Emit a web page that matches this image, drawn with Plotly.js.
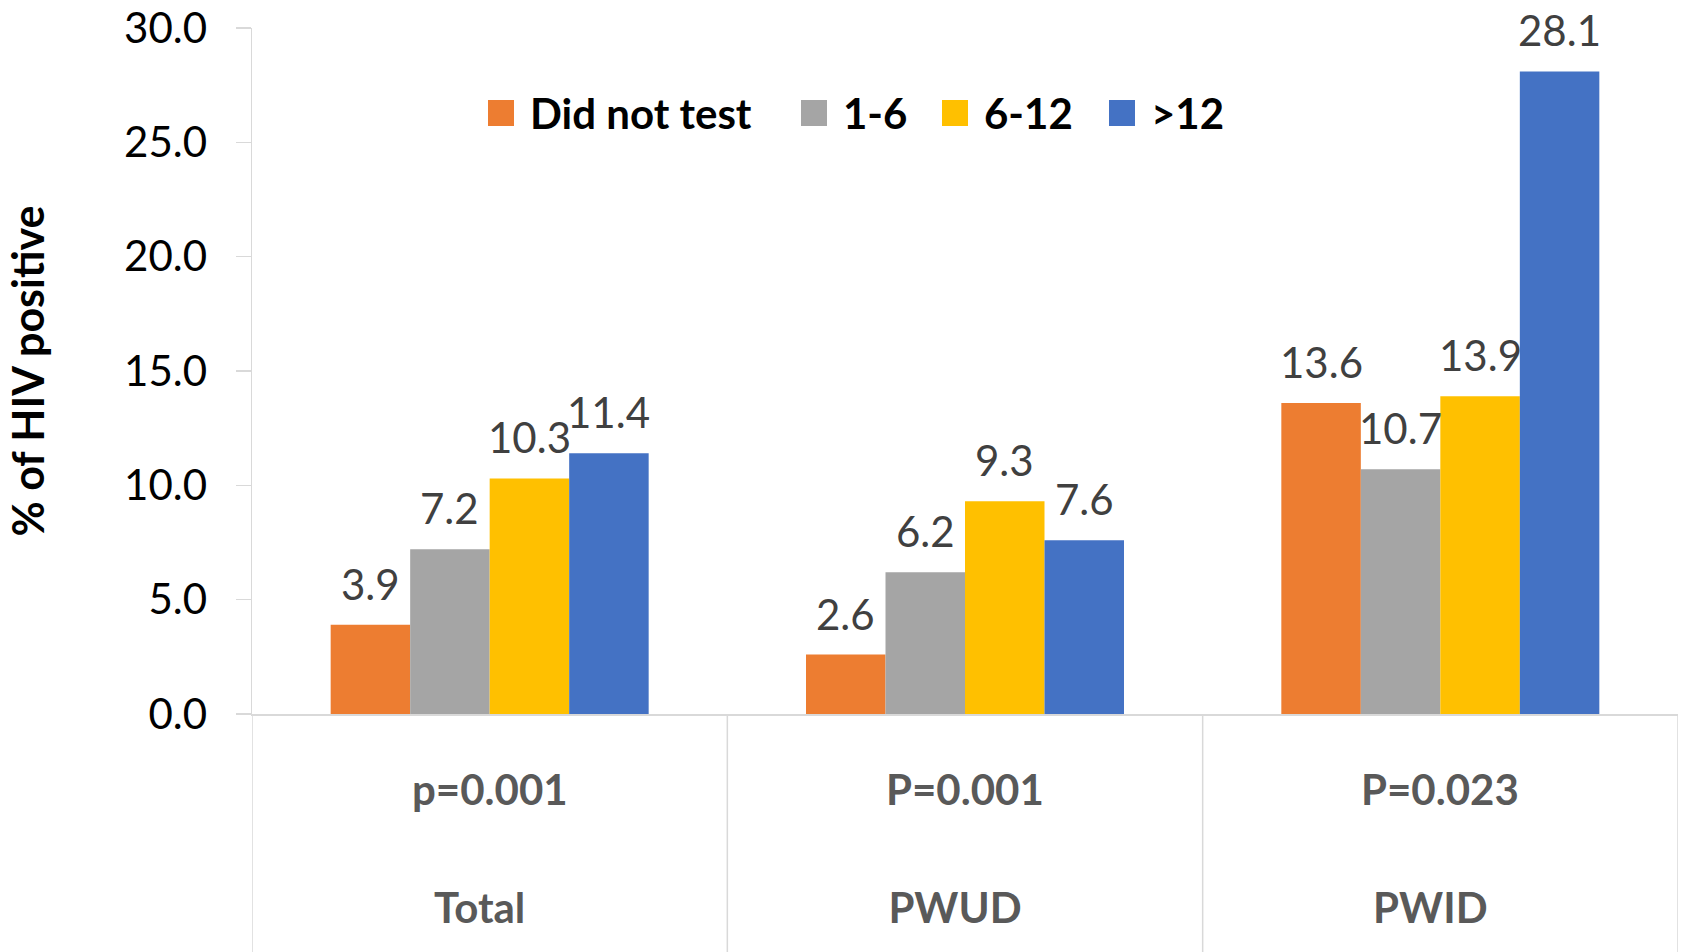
<!DOCTYPE html>
<html><head><meta charset="utf-8">
<script src="https://cdn.plot.ly/plotly-3.0.1.min.js"></script>
<style>html,body{margin:0;padding:0;background:#fff}#chart{width:1685px;height:952px}</style>
</head><body><div id="chart"></div>
<script>
// ---- data ----
const groups = ["Total", "PWUD", "PWID"];
const pValues = ["p=0.001", "P=0.001", "P=0.023"];
const seriesNames = ["Did not test", "1-6", "6-12", ">12"];
const didNotTest = [3.9, 2.6, 13.6];
const months1to6 = [7.2, 6.2, 10.7];
const months6to12 = [10.3, 9.3, 13.9];
const over12 = [11.4, 7.6, 28.1];
const yTicks = [0, 5, 10, 15, 20, 25, 30];
const yTitle = "% of HIV positive";

// ---- styles / layout constants ----
const colors = ["#ED7D31", "#A5A5A5", "#FFC000", "#4472C4"];
const series = [didNotTest, months1to6, months6to12, over12];
const BARGAP = 0.331;
const FONT = "Lato, 'Open Sans', sans-serif";
const AXIS_GRAY = "#d9d9d9";
const W = 1685, H = 952;
const M = {l: 252, r: 7, t: 28, b: 238};
const PW = W - M.l - M.r, PH = H - M.t - M.b;
const px2x = px => (px - M.l) / PW;
const px2y = py => (H - M.b - py) / PH;
// legend layout (pixel positions of each legend swatch's left edge)
const legendSwatchLeft = [488, 801, 942, 1109];
const LEG_SW = 26, LEG_TOP = 100, LEG_TEXT_GAP = 14, LEG_TEXT_MID = 112.5;

const traces = series.map((vals, k) => ({
  type: 'bar', name: seriesNames[k], x: groups, y: vals,
  marker: {color: colors[k]}, hoverinfo: 'skip', showlegend: false
}));

const w = (1 - BARGAP) / series.length;
const annotations = [];
series.forEach((vals, k) => {
  vals.forEach((v, i) => {
    annotations.push({
      xref: 'x', yref: 'y', x: i + (k - (series.length - 1) / 2) * w, y: v,
      text: v.toFixed(1), showarrow: false, yanchor: 'bottom', yshift: 14,
      font: {family: FONT, size: 42, color: '#404040'}
    });
  });
});
pValues.forEach((p, i) => annotations.push({
  xref: 'x', yref: 'paper', x: i, y: 0, yshift: -75, yanchor: 'middle',
  text: p, showarrow: false,
  font: {family: FONT, size: 42, color: '#595959', weight: 'bold'}
}));

const shapes = [];
for (let i = 0; i <= groups.length; i++) {
  shapes.push({type: 'line', xref: 'x', yref: 'paper', x0: i - 0.5, x1: i - 0.5,
    y0: 0, y1: -0.4, line: {color: AXIS_GRAY, width: 1.5}});
}

// manual legend (large swatches like the original)
seriesNames.forEach((name, k) => {
  const left = legendSwatchLeft[k];
  shapes.push({type: 'rect', xref: 'paper', yref: 'paper',
    x0: px2x(left), x1: px2x(left + LEG_SW), y0: px2y(LEG_TOP + LEG_SW), y1: px2y(LEG_TOP),
    fillcolor: colors[k], line: {width: 0}});
  annotations.push({xref: 'paper', yref: 'paper', x: px2x(left + LEG_SW + LEG_TEXT_GAP),
    y: px2y(LEG_TEXT_MID), xanchor: 'left', yanchor: 'middle', showarrow: false,
    text: name, font: {family: FONT, size: 42, color: '#000', weight: 'bold'}});
});

const layout = {
  width: W, height: H,
  margin: M,
  paper_bgcolor: '#fff', plot_bgcolor: '#fff',
  font: {family: FONT, color: '#000'},
  barmode: 'group', bargap: BARGAP, bargroupgap: 0,
  showlegend: false,
  xaxis: {
    type: 'category', range: [-0.5, groups.length - 0.5],
    showline: true, linecolor: AXIS_GRAY, linewidth: 2,
    ticks: '', showgrid: false, zeroline: false,
    ticklabelstandoff: 157, ticklabelshift: -10,
    tickfont: {family: FONT, size: 42, color: '#595959', weight: 'bold'}
  },
  yaxis: {
    range: [0, 30], tickvals: yTicks, tickformat: '.1f',
    showline: true, linecolor: AXIS_GRAY, linewidth: 1.5,
    ticks: 'outside', ticklen: 15, tickcolor: AXIS_GRAY, tickwidth: 1.5,
    ticklabelstandoff: 20,
    showgrid: false, zeroline: false,
    tickfont: {family: FONT, size: 42, color: '#000'},
    title: {text: yTitle, standoff: 66, font: {family: FONT, size: 43, color: '#000', weight: 'bold'}}
  },
  annotations: annotations,
  shapes: shapes
};

Plotly.newPlot('chart', traces, layout, {displayModeBar: false, staticPlot: true});
</script>
</body></html>
